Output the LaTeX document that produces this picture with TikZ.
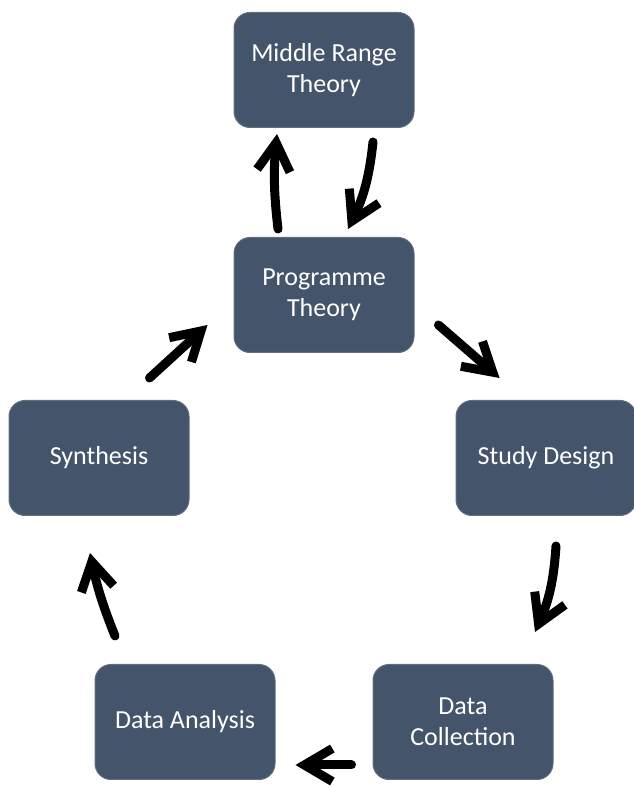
\documentclass[tikz,border=0pt]{standalone}
\usepackage{fontspec}
\setmainfont{Carlito}
\usetikzlibrary{positioning, calc, arrows.meta}
\definecolor{slate}{HTML}{44546A}
\tikzset{stage/.style={rounded corners=16pt, fill=slate, draw=slate!85!white, line width=1pt, text=white, align=center, minimum width=180pt, minimum height=115pt, inner sep=4pt, font=\fontsize{26}{31}\selectfont}}
\tikzset{flow/.style={draw, line width=9pt, line cap=round, -{Straight Barb[length=28pt, width=33pt]}}}

\begin{document}
\begin{tikzpicture}[x=1pt, y=1pt]
	\useasboundingbox (0,0) rectangle (633,787);
	\node[stage] (PT) at (324,492) {Programme\\Theory};
	\node[stage] (MRT) at (324,717) {Middle Range\\Theory};
	\node[stage] (SD) at (546,329) {Study Design};
	\node[stage] (Syn) at (99,329) {Synthesis};
	\node[stage] (DC) at (463,65) {Data\\Collection};
	\node[stage] (DA) at (185,65) {Data Analysis};
	%
	\draw[flow] ([shift={(-46pt,8pt)}]PT.north) to[bend left=6] ([shift={(-47pt,-6pt)}]MRT.south);
	\draw[flow] ([shift={(49pt,-14pt)}]MRT.south) to[bend left=10] ([shift={(24pt,8pt)}]PT.north);
	\draw[flow] ([shift={(24pt,28pt)}]PT.south east) to ([shift={(44pt,22pt)}]SD.north west);
	\draw[flow] ([shift={(10pt,-30pt)}]SD.south) to[bend left=10] ([shift={(72pt,32pt)}]DC.north);
	\draw[flow] ([shift={(-21pt,15pt)}]DC.south west) to ([shift={(20pt,15pt)}]DA.south east);
	\draw[flow] ([shift={(-70pt,28pt)}]DA.north) to[bend left=5] ([shift={(-9pt,-37pt)}]Syn.south);
	\draw[flow] ([shift={(-40pt,22pt)}]Syn.north east) to ([shift={(-26pt,28pt)}]PT.south west);
\end{tikzpicture}
\end{document}
